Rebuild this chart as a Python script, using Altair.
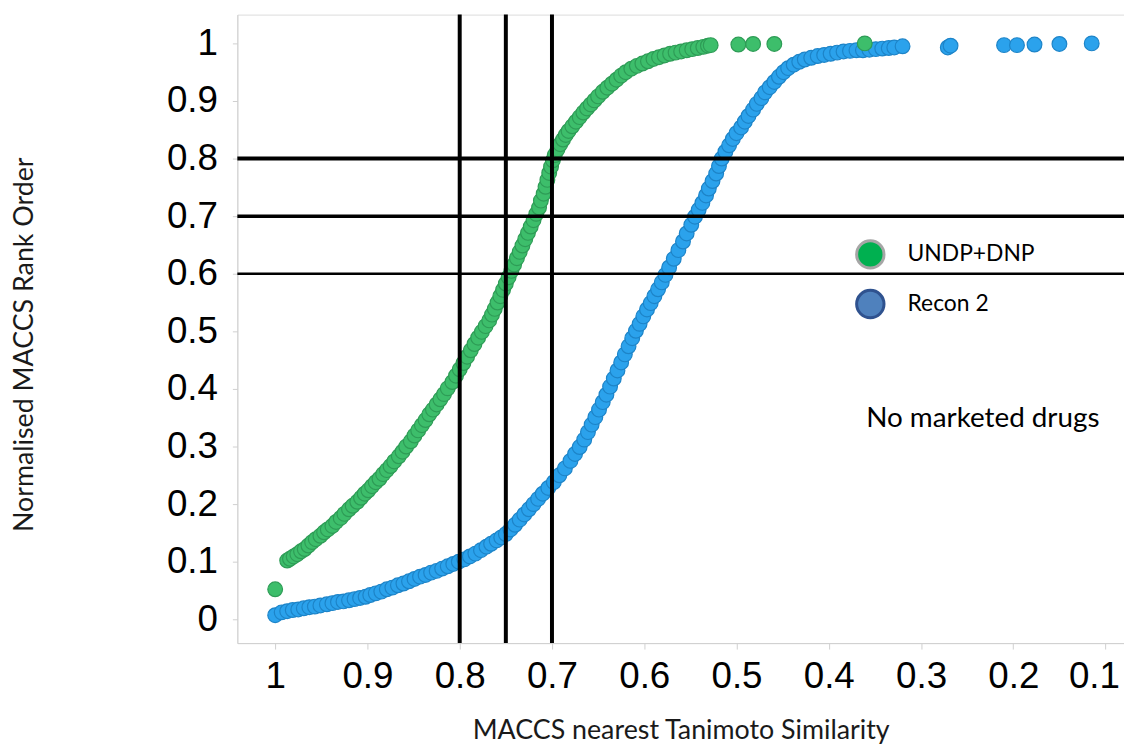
import altair as alt
import pandas as pd

# ---- data ----
green_x = [1.000,
           0.987, 0.984, 0.980, 0.976, 0.972, 0.968, 0.964, 0.960, 0.956, 0.951,
           0.947, 0.943, 0.938, 0.934, 0.929, 0.925, 0.920, 0.916, 0.911, 0.907,
           0.903, 0.899, 0.895, 0.891, 0.887, 0.883, 0.879, 0.875, 0.871, 0.866,
           0.862, 0.858, 0.853, 0.849, 0.845, 0.841, 0.837, 0.833, 0.829, 0.825,
           0.821, 0.817, 0.813, 0.808, 0.804, 0.800, 0.796, 0.792, 0.788, 0.784,
           0.780, 0.776, 0.772, 0.768, 0.765, 0.762, 0.759, 0.756, 0.753, 0.750,
           0.747, 0.744, 0.741, 0.738, 0.735, 0.732, 0.729, 0.726, 0.723, 0.720,
           0.717, 0.714, 0.712, 0.709, 0.707, 0.705, 0.703, 0.701, 0.699, 0.697,
           0.694, 0.691, 0.688, 0.685, 0.682, 0.678, 0.674, 0.670, 0.666, 0.662,
           0.658, 0.654, 0.650, 0.645, 0.640, 0.635, 0.630, 0.625, 0.620, 0.614,
           0.608, 0.602, 0.596, 0.590, 0.584, 0.578, 0.572, 0.566, 0.560, 0.554,
           0.548, 0.542, 0.536, 0.531, 0.528,
           0.498, 0.482, 0.459, 0.361]
green_y = [0.052,
           0.102, 0.105, 0.109, 0.113, 0.118, 0.122, 0.128, 0.134, 0.139, 0.145,
           0.151, 0.156, 0.162, 0.169, 0.176, 0.183, 0.191, 0.197, 0.204, 0.211,
           0.218, 0.224, 0.231, 0.238, 0.244, 0.252, 0.259, 0.266, 0.274, 0.283,
           0.291, 0.300, 0.309, 0.319, 0.328, 0.337, 0.346, 0.356, 0.364, 0.373,
           0.382, 0.391, 0.401, 0.412, 0.423, 0.434, 0.445, 0.456, 0.467, 0.478,
           0.489, 0.499, 0.509, 0.519, 0.529, 0.539, 0.550, 0.561, 0.572, 0.583,
           0.594, 0.605, 0.616, 0.627, 0.638, 0.649, 0.660, 0.671, 0.682, 0.693,
           0.704, 0.715, 0.727, 0.739, 0.751, 0.763, 0.775, 0.786, 0.797, 0.806,
           0.816, 0.825, 0.833, 0.841, 0.848, 0.856, 0.864, 0.872, 0.880, 0.887,
           0.894, 0.901, 0.908, 0.916, 0.923, 0.930, 0.937, 0.944, 0.950, 0.956,
           0.961, 0.965, 0.969, 0.973, 0.976, 0.979, 0.982, 0.984, 0.986, 0.988,
           0.990, 0.992, 0.994, 0.996, 0.997,
           0.998, 0.999, 0.999, 1.000]

blue_x = [1.000, 0.993, 0.987, 0.981, 0.975, 0.969, 0.963, 0.957, 0.951, 0.944,
          0.938, 0.932, 0.926, 0.920, 0.914, 0.908, 0.902, 0.897, 0.891, 0.885,
          0.879, 0.873, 0.867, 0.861, 0.855, 0.849, 0.843, 0.837, 0.831, 0.825,
          0.819, 0.813, 0.807, 0.801, 0.795, 0.789, 0.783, 0.777, 0.771, 0.766,
          0.760, 0.755, 0.750, 0.745, 0.740, 0.735, 0.730, 0.725, 0.720, 0.715,
          0.710, 0.704, 0.698, 0.692, 0.686, 0.680, 0.675, 0.670, 0.665, 0.661,
          0.657, 0.653, 0.649, 0.645, 0.641, 0.637, 0.633, 0.629, 0.625, 0.621,
          0.617, 0.613, 0.609, 0.605, 0.601, 0.597, 0.593, 0.589, 0.585, 0.581,
          0.577, 0.573, 0.568, 0.563, 0.558, 0.554, 0.549, 0.545,
          0.541, 0.537, 0.533, 0.530, 0.526, 0.522, 0.519, 0.516, 0.512, 0.508,
          0.504, 0.500, 0.495, 0.491, 0.487, 0.482, 0.478, 0.473, 0.469, 0.464,
          0.459, 0.454, 0.449, 0.444, 0.438, 0.432, 0.426, 0.419, 0.412, 0.405,
          0.398, 0.391, 0.384, 0.377, 0.370, 0.363, 0.356, 0.349, 0.342, 0.335,
          0.329, 0.320, 0.271, 0.268, 0.210, 0.196, 0.177, 0.150, 0.115]
blue_y = [0.007, 0.012, 0.014, 0.016, 0.017, 0.019, 0.021, 0.022, 0.024, 0.026,
          0.028, 0.030, 0.031, 0.033, 0.035, 0.037, 0.039, 0.042, 0.045, 0.048,
          0.052, 0.055, 0.059, 0.062, 0.066, 0.070, 0.074, 0.077, 0.081, 0.084,
          0.088, 0.092, 0.096, 0.100, 0.104, 0.109, 0.114, 0.120, 0.126, 0.131,
          0.137, 0.142, 0.148, 0.156, 0.164, 0.173, 0.182, 0.191, 0.200, 0.209,
          0.218, 0.228, 0.238, 0.250, 0.262, 0.275, 0.287, 0.299, 0.312, 0.325,
          0.338, 0.351, 0.364, 0.377, 0.390, 0.404, 0.418, 0.432, 0.446, 0.460,
          0.474, 0.488, 0.501, 0.513, 0.526, 0.538, 0.549, 0.561, 0.573, 0.585,
          0.598, 0.611, 0.626, 0.641, 0.656, 0.670, 0.685, 0.699,
          0.711, 0.723, 0.736, 0.748, 0.761, 0.774, 0.787, 0.800, 0.812, 0.823,
          0.834, 0.844, 0.854, 0.864, 0.874, 0.885, 0.895, 0.905, 0.915, 0.924,
          0.933, 0.942, 0.950, 0.957, 0.963, 0.968, 0.972, 0.975, 0.978, 0.980,
          0.982, 0.984, 0.986, 0.987, 0.988, 0.988, 0.989, 0.990, 0.991, 0.992,
          0.993, 0.995, 0.993, 0.996, 0.997, 0.997, 0.998, 0.999, 1.000]

series_names = ["UNDP+DNP", "Recon 2"]
x_ticks = [1, 0.9, 0.8, 0.7, 0.6, 0.5, 0.4, 0.3, 0.2, 0.1]
y_ticks = [0, 0.1, 0.2, 0.3, 0.4, 0.5, 0.6, 0.7, 0.8, 0.9, 1]
v_lines = [0.8, 0.75, 0.7]
h_lines = [0.8, 0.7, 0.6]
h_widths = [4, 3.5, 2.5]
note_text = ["No marketed drugs"]
note_x = [0.233]
note_y = [0.347]

# ---- tables ----
df = pd.concat([
    pd.DataFrame({"sim": blue_x, "rank": blue_y, "series": "Recon 2"}),
    pd.DataFrame({"sim": green_x, "rank": green_y, "series": "UNDP+DNP"}),
], ignore_index=True)
vdf = pd.DataFrame({"v": v_lines})
hdf = pd.DataFrame({"h": h_lines, "w": h_widths})
ndf = pd.DataFrame({"t": note_text, "sim": note_x, "rank": note_y})

xscale = alt.Scale(domain=[0.080, 1.041], reverse=True, nice=False, zero=False)
yscale = alt.Scale(domain=[-0.0414, 1.05], nice=False, zero=False)

x_axis = alt.Axis(values=x_ticks, format="~g", title="MACCS nearest Tanimoto Similarity",
                  grid=False, domainColor="#D0D0D0", tickColor="#D0D0D0", tickSize=6,
                  labelFont="Liberation Sans", labelFontSize=37, labelColor="black",
                  labelPadding=10, labelFlush=35, labelFlushOffset=14, labelOverlap=False,
                  titleFont="Lato", titleFontSize=27, titleFontWeight="normal",
                  titleColor="#1a1a1a", titleBaseline="middle", titleY=88)
y_axis = alt.Axis(values=y_ticks, format="~g", title="Normalised MACCS Rank Order",
                  grid=False, domainColor="#D0D0D0", tickColor="#D0D0D0", tickSize=5,
                  labelFont="Liberation Sans", labelFontSize=37, labelColor="black",
                  labelPadding=15, labelOverlap=False,
                  titleFont="Lato", titleFontSize=27, titleFontWeight="normal",
                  titleColor="#1a1a1a", titleAngle=270, titleAlign="center",
                  titleBaseline="middle", titleX=-214, titleY=332)

points = alt.Chart(df).mark_point(filled=True, size=220, strokeWidth=1.2, opacity=1).encode(
    x=alt.X("sim:Q", scale=xscale, axis=x_axis),
    y=alt.Y("rank:Q", scale=yscale, axis=y_axis),
    fill=alt.Fill("series:N", scale=alt.Scale(domain=series_names, range=["#3DBE6B", "#2BA2EC"]), legend=None),
    stroke=alt.Stroke("series:N", scale=alt.Scale(domain=series_names, range=["#2E9C56", "#1D84C8"]), legend=None),
)

leg = alt.Legend(orient="none", legendX=622, legendY=226, title=None, symbolType="circle",
                 symbolSize=760, symbolStrokeWidth=3, symbolOpacity=1,
                 labelFont="Lato", labelFontSize=23, labelColor="black", labelOffset=22,
                 rowPadding=9, padding=0)
legend_layer = alt.Chart(df).mark_point(filled=True, opacity=0, shape="circle").encode(
    x=alt.X("sim:Q", scale=xscale),
    y=alt.Y("rank:Q", scale=yscale),
    fill=alt.Fill("series:N", scale=alt.Scale(domain=series_names, range=["#00B050", "#4F81BD"]), legend=leg),
    stroke=alt.Stroke("series:N", scale=alt.Scale(domain=series_names, range=["#A6A6A6", "#2F528F"]), legend=leg),
)

vrules = alt.Chart(vdf).mark_rule(color="black", strokeWidth=4).encode(
    x=alt.X("v:Q", scale=xscale))
hrules = alt.Chart(hdf).mark_rule(color="black").encode(
    y=alt.Y("h:Q", scale=yscale),
    strokeWidth=alt.StrokeWidth("w:Q", scale=None, legend=None))

note = alt.Chart(ndf).mark_text(font="Lato", fontSize=28, color="black", align="center",
                                baseline="middle").encode(
    x=alt.X("sim:Q", scale=xscale), y=alt.Y("rank:Q", scale=yscale), text="t:N")

chart = alt.layer(points, legend_layer, vrules, hrules, note).resolve_scale(
    fill="independent", stroke="independent"
).properties(
    width=893, height=633,
    autosize=alt.AutoSizeParams(type="none"),
    padding={"left": 231, "top": 4, "right": 0, "bottom": 104},
).configure_view(stroke=None).configure(background="white")

chart.save("out.html", embed_options={"renderer": "svg", "actions": False})
